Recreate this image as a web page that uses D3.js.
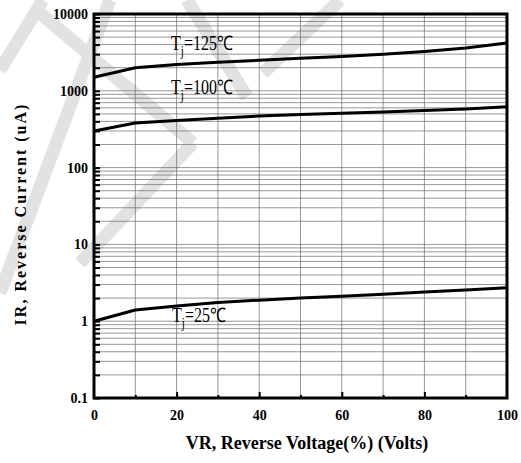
<!DOCTYPE html>
<html>
<head>
<meta charset="utf-8">
<script src="https://cdn.jsdelivr.net/npm/d3@7"></script>
<style>
  body { margin: 0; background: #fff; }
  svg { display: block; }
</style>
</head>
<body>
<div class="canvas"></div>
<script>
// data
const voltage = [0, 10, 20, 30, 40, 50, 60, 70, 80, 90, 100];
const ir125 = [1500, 2000, 2200, 2350, 2500, 2650, 2800, 3000, 3250, 3600, 4200];
const ir100 = [300, 380, 410, 440, 470, 490, 510, 530, 555, 580, 620];
const ir25 = [1.0, 1.4, 1.58, 1.75, 1.88, 2.0, 2.12, 2.25, 2.4, 2.55, 2.72];
const yTicks = [0.1, 1, 10, 100, 1000, 10000];
const xTicks = [0, 20, 40, 60, 80, 100];
const seriesLabels = ['125℃', '100℃', '25℃'];

const svg = d3.select('.canvas')
  .append('svg')
    .attr('width', 521)
    .attr('height', 463);

// faint watermark strokes behind the chart
const watermark = [
  [[0, 70], [43, 0]],
  [[40, 13], [193, 143]],
  [[0, 293], [110, 0]],
  [[80, 263], [193, 143]],
  [[187, 0], [247, 97]],
  [[263, 73], [340, 0]]
];
svg.append('g')
  .selectAll('line')
  .data(watermark)
  .enter().append('line')
    .attr('x1', d => d[0][0]).attr('y1', d => d[0][1])
    .attr('x2', d => d[1][0]).attr('y2', d => d[1][1])
    .attr('stroke', '#e2e2e2')
    .attr('stroke-width', 13);

const margin = {top: 14, right: 14, bottom: 65, left: 94};
const graphWidth = 521 - margin.left - margin.right;
const graphHeight = 463 - margin.top - margin.bottom;

const graph = svg.append('g')
  .attr('transform', `translate(${margin.left}, ${margin.top})`);

const x = d3.scaleLinear().domain([0, 100]).range([0, graphWidth]);
const y = d3.scaleLog().domain([0.1, 10000]).range([graphHeight, 0]);

// minor log values 1..9 in each decade
const minor = [];
for (let e = -1; e < 4; e++) {
  for (let k = 1; k < 10; k++) minor.push(+(k * Math.pow(10, e)).toPrecision(3));
}
minor.push(10000);

// grid
graph.append('g')
  .selectAll('line')
  .data(minor)
  .enter().append('line')
    .attr('x1', 0).attr('x2', graphWidth)
    .attr('y1', d => y(d)).attr('y2', d => y(d))
    .attr('stroke', '#6a6a6a').attr('stroke-width', 0.7);

graph.append('g')
  .selectAll('line')
  .data(d3.range(10, 100, 10))
  .enter().append('line')
    .attr('y1', 0).attr('y2', graphHeight)
    .attr('x1', d => x(d)).attr('x2', d => x(d))
    .attr('stroke', '#6a6a6a').attr('stroke-width', 0.7);

// inner ticks on the left
graph.append('g')
  .call(d3.axisRight(y).tickValues(minor).tickSize(6).tickFormat(''))
  .call(g => g.select('.domain').remove())
  .selectAll('line').attr('stroke', '#000').attr('stroke-width', 2);

// inner ticks on the bottom
const xTickGroup = graph.append('g')
  .attr('transform', `translate(0, ${graphHeight})`)
  .call(d3.axisTop(x).tickValues(d3.range(10, 100, 10)).tickSize(3).tickFormat(''))
  .call(g => g.select('.domain').remove());
xTickGroup.selectAll('line')
  .attr('stroke', '#000').attr('stroke-width', 2)
  .attr('y2', d => d % 20 === 0 ? -6 : -3);

// frame
graph.append('rect')
  .attr('width', graphWidth).attr('height', graphHeight)
  .attr('fill', 'none').attr('stroke', '#000').attr('stroke-width', 3);

// tick labels
const yAxisGroup = graph.append('g')
  .call(d3.axisLeft(y).tickValues(yTicks).tickSize(0).tickPadding(6).tickFormat(d => String(d)))
  .call(g => g.select('.domain').remove());
yAxisGroup.selectAll('text')
  .attr('font-family', 'Liberation Serif')
  .attr('font-weight', 'bold')
  .attr('font-size', 14)
  .attr('fill', '#000');

const xAxisGroup = graph.append('g')
  .attr('transform', `translate(0, ${graphHeight})`)
  .call(d3.axisBottom(x).tickValues(xTicks).tickSize(0).tickPadding(12))
  .call(g => g.select('.domain').remove());
xAxisGroup.selectAll('text')
  .attr('font-family', 'Liberation Serif')
  .attr('font-weight', 'bold')
  .attr('font-size', 14)
  .attr('fill', '#000');

// curves
const line = d3.line()
  .x((d, i) => x(voltage[i]))
  .y(d => y(d));

[ir125, ir100, ir25].forEach(s => {
  graph.append('path')
    .attr('d', line(s))
    .attr('fill', 'none')
    .attr('stroke', '#000')
    .attr('stroke-width', 3)
    .attr('stroke-linejoin', 'round');
});

// curve labels (condensed serif)
const labelPos = [[171, 50], [171, 94], [172, 322]];
seriesLabels.forEach((lab, i) => {
  const t = svg.append('text')
    .attr('transform', `translate(${labelPos[i][0]}, ${labelPos[i][1]}) scale(0.8, 1)`)
    .attr('font-family', 'Liberation Serif')
    .attr('font-size', 20)
    .attr('fill', '#000');
  t.append('tspan').text('T');
  t.append('tspan').attr('font-size', 14).attr('dy', 6).text('j');
  t.append('tspan').attr('dy', -6).text('=' + lab);
});

// axis titles
svg.append('text')
  .attr('x', 307).attr('y', 449)
  .attr('text-anchor', 'middle')
  .attr('font-family', 'Liberation Serif')
  .attr('font-weight', 'bold')
  .attr('font-size', 18)
  .text('VR, Reverse Voltage(%) (Volts)');

svg.append('text')
  .attr('transform', 'translate(26, 214) rotate(-90)')
  .attr('text-anchor', 'middle')
  .attr('font-family', 'Liberation Serif')
  .attr('font-weight', 'bold')
  .attr('font-size', 16)
  .attr('letter-spacing', 2)
  .text('IR, Reverse Current (uA)');
</script>
</body>
</html>
